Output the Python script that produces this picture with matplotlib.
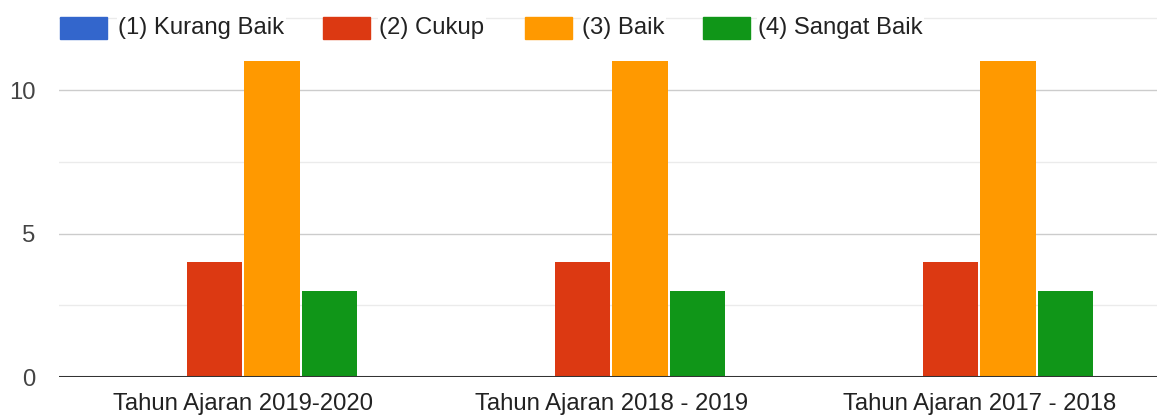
import numpy as np
import matplotlib
matplotlib.use('Agg')
import matplotlib.pyplot as plt
from matplotlib.patches import Rectangle

categories = ['Tahun Ajaran 2019-2020', 'Tahun Ajaran 2018 - 2019', 'Tahun Ajaran 2017 - 2018']
series_names = ['(1) Kurang Baik', '(2) Cukup', '(3) Baik', '(4) Sangat Baik']
kurang_baik = [0, 0, 0]
cukup = [4, 4, 4]
baik = [11, 11, 11]
sangat_baik = [3, 3, 3]
colors = ['#3366cc', '#dc3912', '#ff9900', '#109618']

plt.rcParams['font.family'] = ['Liberation Sans', 'DejaVu Sans']
FS = 17.2

fig = plt.figure(figsize=(11.57, 4.15), dpi=100)
ax = fig.add_axes([59 / 1157, 38 / 415, 1 - 59 / 1157, 1 - 38 / 415])

x = np.arange(len(categories))
step = 0.156
width = 0.150
for i, vals in enumerate([kurang_baik, cukup, baik, sangat_baik]):
    ax.bar(x + (i - 1.5) * step, vals, width, color=colors[i], zorder=3)

ax.set_xlim(-0.501, 2.483)
ax.set_ylim(0, 13.14)

# grid lines like google charts
for v in [2.5, 7.5, 12.5]:
    ax.axhline(v, color='#ebebeb', lw=1.0, zorder=1)
for v in [5, 10]:
    ax.axhline(v, color='#cccccc', lw=1.0, zorder=1)
ax.axhline(0, color='#333333', lw=2.2, zorder=4)

for s in ax.spines.values():
    s.set_visible(False)
ax.set_yticks([0, 5, 10])
ax.set_yticklabels(['0', '5', '10'])
ax.set_xticks(x)
ax.set_xticklabels(categories)
ax.tick_params(axis='y', length=0, pad=17, labelsize=FS, labelcolor='#444444')
ax.tick_params(axis='x', length=0, pad=11.5, labelsize=FS, labelcolor='#222222')

# legend across the top
sw_x = [60, 323, 525, 703]
tx_x = [118, 379, 582, 758]
H = 415
for i, name in enumerate(series_names):
    fig.patches.append(Rectangle((sw_x[i] / 1157, 1 - 39 / H), 47 / 1157, 22 / H,
                                 transform=fig.transFigure, color=colors[i], zorder=5))
    fig.text(tx_x[i] / 1157, 1 - 28 / H, name, fontsize=FS, color='#222222',
             va='center', ha='left', zorder=5,
             bbox=dict(facecolor='white', edgecolor='none', pad=1))

fig.savefig('out.png', dpi=100)
